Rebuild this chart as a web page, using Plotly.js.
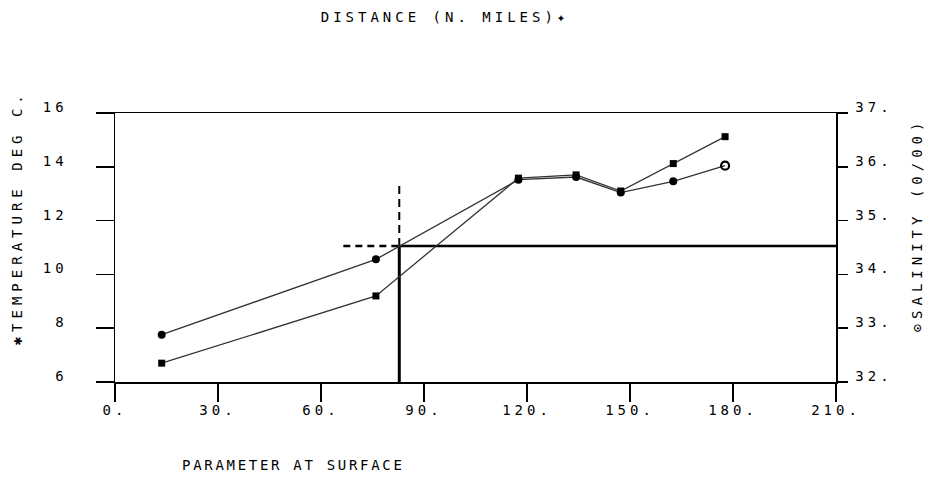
<!DOCTYPE html>
<html>
<head>
<meta charset="utf-8">
<script src="https://cdn.plot.ly/plotly-3.0.1.min.js"></script>
<style>
  html, body { margin: 0; padding: 0; background: #fff; }
  #chart { width: 931px; height: 480px; }
  svg text { letter-spacing: 4px; }
  .annotation[data-index="0"] text { letter-spacing: 2.7px; }
  .annotation[data-index="1"] text { letter-spacing: 5px; }
  .annotation[data-index="2"] text { letter-spacing: 5px; }
</style>
</head>
<body>
<div id="chart"></div>
<script>
// Distance along track (n. miles)
const distance = [13.6, 76, 117.5, 134.3, 147.3, 162.6, 177.7];
// Surface temperature (deg C), square markers
const temperature = [6.7, 9.2, 13.58, 13.70, 13.10, 14.12, 15.12];
// Surface salinity (o/oo), circle markers
const salinity = [32.88, 34.28, 35.76, 35.81, 35.52, 35.73, 36.02];
const salinitySymbols = ['circle', 'circle', 'circle', 'circle', 'circle', 'circle', 'circle-open'];
const salinityRing = [0, 0, 0, 0, 0, 0, 2.2];

// Reference (front) marker
const frontDistance = 82.8;
const frontTemp = 11.06;
const frontDashTop = 13.4;
const frontDashLeft = 66.5;
const axisEndDistance = 210;
const tempBottom = 6;

// Axis ticks
const xTickVals = [0, 30, 60, 90, 120, 150, 180, 210];
const xTickText = ['0.', '30.', '60.', '90.', '120.', '150.', '180.', '210.'];
const tempTickVals = [6, 8, 10, 12, 14, 16];
const tempTickText = ['6', '8', '10', '12', '14', '16'];
const salTickVals = [32, 33, 34, 35, 36, 37];
const salTickText = ['32.', '33.', '34.', '35.', '36.', '37.'];

const FONT = 'DejaVu Sans Mono, monospace';

const traces = [
  { x: [frontDistance, frontDistance], y: [tempBottom, frontTemp], mode: 'lines',
    line: { color: '#000', width: 3 }, hoverinfo: 'skip', showlegend: false },
  { x: [frontDistance, axisEndDistance], y: [frontTemp, frontTemp], mode: 'lines',
    line: { color: '#000', width: 2.5 }, hoverinfo: 'skip', showlegend: false },
  { x: [frontDistance, frontDistance], y: [frontTemp, frontDashTop], mode: 'lines',
    line: { color: '#000', width: 2, dash: '8px,5px' }, hoverinfo: 'skip', showlegend: false },
  { x: [frontDashLeft, frontDistance], y: [frontTemp, frontTemp], mode: 'lines',
    line: { color: '#000', width: 2.5, dash: '7px,5px' }, hoverinfo: 'skip', showlegend: false },
  { name: 'Temperature', x: distance, y: temperature, mode: 'lines+markers',
    line: { color: '#333', width: 1.3 },
    marker: { symbol: 'square', size: 7, color: '#000' }, showlegend: false },
  { name: 'Salinity', x: distance, y: salinity, yaxis: 'y2', mode: 'lines+markers',
    line: { color: '#333', width: 1.3 },
    marker: { symbol: salinitySymbols, size: 8, color: '#000',
              line: { color: '#000', width: salinityRing } }, showlegend: false }
];

const layout = {
  width: 931, height: 480,
  margin: { l: 115, r: 95, t: 113, b: 98 },
  paper_bgcolor: '#fff', plot_bgcolor: '#fff',
  font: { family: FONT, size: 14, color: '#000' },
  showlegend: false,
  title: { text: 'DISTANCE (N. MILES)✦', xref: 'container', yref: 'container',
           x: 0.478, y: 0.965, xanchor: 'center', yanchor: 'middle',
           font: { family: FONT, size: 14, color: '#000' } },
  xaxis: {
    range: [0, 210], showgrid: false, zeroline: false,
    showline: true, linecolor: '#000', linewidth: 1.5, mirror: true,
    ticks: 'outside', ticklen: 18, tickwidth: 1.5, tickcolor: '#000',
    tickvals: xTickVals, ticktext: xTickText, ticklabelstandoff: -3,
    tickfont: { family: FONT, size: 14, color: '#000' }
  },
  yaxis: {
    range: [6, 16], showgrid: false, zeroline: false,
    showline: true, linecolor: '#000', linewidth: 1.5,
    ticks: 'outside', ticklen: 18, tickwidth: 1.5, tickcolor: '#000',
    tickvals: tempTickVals, ticktext: tempTickText,
    ticklabelstandoff: 25, ticklabelshift: -6,
    tickfont: { family: FONT, size: 14, color: '#000' }
  },
  yaxis2: {
    range: [32, 37], overlaying: 'y', side: 'right', showgrid: false, zeroline: false,
    showline: true, linecolor: '#000', linewidth: 1.5,
    ticks: 'outside', ticklen: 10, tickwidth: 1.5, tickcolor: '#000',
    tickvals: salTickVals, ticktext: salTickText,
    ticklabelstandoff: 5, ticklabelshift: -6,
    tickfont: { family: FONT, size: 14, color: '#000' }
  },
  annotations: [
    { text: 'PARAMETER AT SURFACE', xref: 'paper', yref: 'paper',
      x: 0.072, y: -0.309, xanchor: 'left', yanchor: 'middle', showarrow: false,
      font: { family: FONT, size: 14, color: '#000' } },
    { text: '✱TEMPERATURE DEG C.', xref: 'paper', yref: 'paper',
      x: -0.136, y: 0.61, xanchor: 'center', yanchor: 'middle', textangle: -90, showarrow: false,
      font: { family: FONT, size: 14, color: '#000' } },
    { text: '⊙SALINITY (0/00)', xref: 'paper', yref: 'paper',
      x: 1.112, y: 0.585, xanchor: 'center', yanchor: 'middle', textangle: -90, showarrow: false,
      font: { family: FONT, size: 14, color: '#000' } }
  ]
};

Plotly.newPlot('chart', traces, layout, { displayModeBar: false, staticPlot: true });
</script>
</body>
</html>
